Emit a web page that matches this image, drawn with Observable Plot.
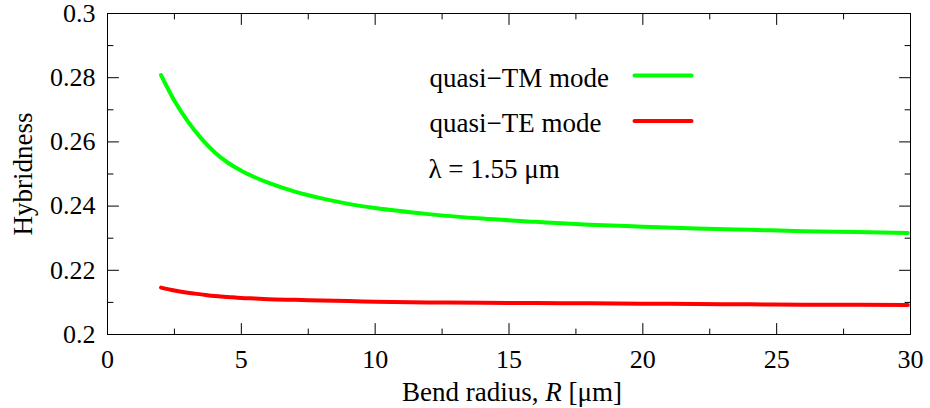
<!DOCTYPE html>
<html><head><meta charset="utf-8">
<script src="https://cdn.jsdelivr.net/npm/d3@7"></script>
<script src="https://cdn.jsdelivr.net/npm/@observablehq/plot@0.6"></script>
<style>
body{margin:0;background:#fff}
#chart{position:relative;width:930px;height:408px}
</style>
</head><body><div id="chart"></div>
<script>
// ---- data ----
const radius       = [2, 2.5, 3, 3.5, 4, 4.5, 5, 5.5, 6, 7, 8, 9, 10, 12, 14, 16, 18, 20, 22, 24, 26, 28, 29.9];
const tmHybridness = [0.2808, 0.2728, 0.2664, 0.2611, 0.2568, 0.2535, 0.2510, 0.2490, 0.2473, 0.2445, 0.2424, 0.2407, 0.2394, 0.2375, 0.2361, 0.2351, 0.2342, 0.2336, 0.2330, 0.2326, 0.2322, 0.2319, 0.2316];
const teHybridness = [0.2146, 0.2137, 0.2130, 0.2125, 0.2120, 0.2117, 0.2114, 0.2112, 0.2110, 0.2108, 0.2106, 0.2104, 0.2102, 0.2100, 0.2099, 0.2098, 0.2097, 0.2096, 0.2095, 0.2094, 0.2093, 0.2093, 0.2092];
const seriesNames  = ["quasi\u2212TM mode", "quasi\u2212TE mode"];
const seriesColors = ["#00ff00", "#ff0000"];
const annotation   = "\u03bb = 1.55 \u03bcm";
const xTicks       = [0, 5, 10, 15, 20, 25, 30];
const xTickLabels  = ["0", "5", "10", "15", "20", "25", "30"];
const xMinorTicks  = [2.5, 7.5, 12.5, 17.5, 22.5, 27.5];
const yTicks       = [0.2, 0.22, 0.24, 0.26, 0.28, 0.3];
const yTickLabels  = ["0.2", "0.22", "0.24", "0.26", "0.28", "0.3"];
const yMinorTicks  = [0.21, 0.23, 0.25, 0.27, 0.29];
const xLabel = "Bend radius, R [\u03bcm]";
const yLabel = "Hybridness";

const rows = radius.flatMap((r, i) => [
  {R: r, h: tmHybridness[i], s: seriesNames[0]},
  {R: r, h: teHybridness[i], s: seriesNames[1]}
]);

const FONT = "'Liberation Serif','Times New Roman',serif";
const tickShape = {draw(ctx, l) { ctx.moveTo(0, 0); ctx.lineTo(0, -l); }};
const tk = (data, opts, len) => Plot.vector(data, {anchor: "start", length: len, shape: tickShape, stroke: "#000", strokeWidth: 1, ...opts});
const txt = (s, opts) => Plot.text([s], {fontSize: 27, fontFamily: FONT, lineAnchor: "middle", ...opts});

const chart = Plot.plot({
  width: 930, height: 408,
  marginLeft: 107, marginRight: 20, marginTop: 13, marginBottom: 74,
  style: {fontFamily: FONT, fontSize: "26px", background: "#fff", color: "#000"},
  x: {domain: [0, 30]},
  y: {domain: [0.2, 0.3]},
  color: {domain: seriesNames, range: seriesColors},
  marks: [
    Plot.line(rows, {x: "R", y: "h", z: "s", stroke: "s", strokeWidth: 4, curve: "monotone-x"}),
    // inward ticks on all four sides
    tk(xTicks, {x: d => d, frameAnchor: "bottom", rotate: 0}, 11),
    tk(xMinorTicks, {x: d => d, frameAnchor: "bottom", rotate: 0}, 5.5),
    tk(xTicks, {x: d => d, frameAnchor: "top", rotate: 180}, 11),
    tk(xMinorTicks, {x: d => d, frameAnchor: "top", rotate: 180}, 5.5),
    tk(yTicks, {y: d => d, frameAnchor: "left", rotate: 90}, 11),
    tk(yMinorTicks, {y: d => d, frameAnchor: "left", rotate: 90}, 5.5),
    tk(yTicks, {y: d => d, frameAnchor: "right", rotate: -90}, 11),
    tk(yMinorTicks, {y: d => d, frameAnchor: "right", rotate: -90}, 5.5),
    Plot.axisX(xTicks, {tickSize: 0, tickPadding: 15, tickFormat: d => xTickLabels[xTicks.indexOf(d)], label: null, fontSize: 26, fontFamily: FONT}),
    Plot.axisY(yTicks, {tickSize: 0, tickPadding: 12, tickFormat: d => yTickLabels[yTicks.indexOf(d)], label: null, fontSize: 26, fontFamily: FONT}),
    Plot.frame({stroke: "#000", strokeWidth: 1}),
    // axis titles
    txt(xLabel, {frameAnchor: "bottom", textAnchor: "middle", dx: 3, dy: 58}),
    txt(yLabel, {frameAnchor: "left", textAnchor: "middle", dx: -84, rotate: -90}),
    // legend
    txt(seriesNames[0], {frameAnchor: "top-left", textAnchor: "start", dx: 322, dy: 64.5}),
    txt(seriesNames[1], {frameAnchor: "top-left", textAnchor: "start", dx: 322, dy: 109.5}),
    txt(annotation, {frameAnchor: "top-left", textAnchor: "start", dx: 321, dy: 156}),
    tk([0], {frameAnchor: "top-left", dx: 527, dy: 62, rotate: 90, stroke: seriesColors[0], strokeWidth: 4}, 57),
    tk([0], {frameAnchor: "top-left", dx: 527, dy: 107.5, rotate: 90, stroke: seriesColors[1], strokeWidth: 4}, 57)
  ]
});
document.getElementById("chart").appendChild(chart);

// italic R in the x-axis title
d3.select(chart).selectAll("text").filter(function() { return this.textContent === xLabel; }).each(function() {
  const t = d3.select(this);
  t.text(null);
  t.append("tspan").text("Bend radius, ");
  t.append("tspan").attr("font-style", "italic").text("R");
  t.append("tspan").text(" [\u03bcm]");
});
</script>
</body></html>
